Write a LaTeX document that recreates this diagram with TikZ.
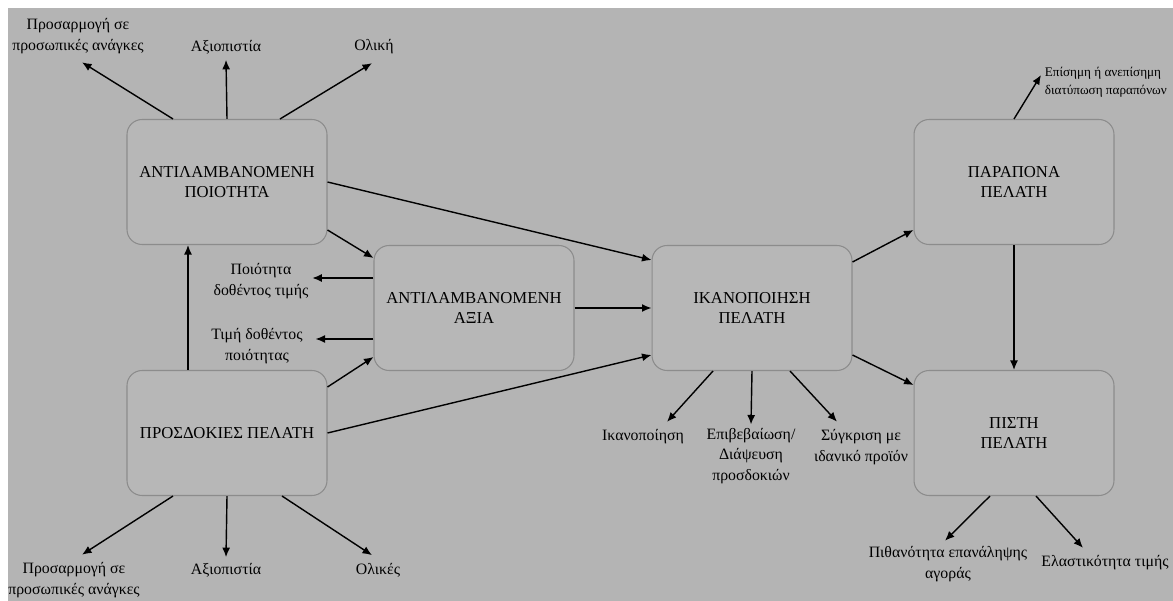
\documentclass[tikz,border=0pt]{standalone}
\usepackage{fontspec}
\setmainfont{Liberation Serif}
\usetikzlibrary{positioning,arrows.meta,calc}
\definecolor{paper}{RGB}{180,180,180}
\definecolor{boxfill}{RGB}{183,183,183}
\definecolor{boxline}{RGB}{140,140,140}

\begin{document}
\begin{tikzpicture}[x=0.02cm,y=-0.02cm,
  box/.style={draw=boxline,fill=boxfill,line width=0.6pt,rounded corners=0.3cm,minimum width=4cm,minimum height=2.5cm,align=center,font=\fontsize{9.5}{11.4}\selectfont},
  lbl/.style={align=center,inner sep=2pt,font=\fontsize{9}{11.6}\selectfont},
  arr/.style={-{Latex[length=1.9mm,width=1.6mm]},line width=0.8pt}
]
\useasboundingbox (0,0) rectangle (1173,601);
\fill[white] (0,0) rectangle (1173,601);
\fill[paper] (8,8) rectangle (1173,601);

\node[box] (quality) at (227,182) {ΑΝΤΙΛΑΜΒΑΝΟΜΕΝΗ\\ΠΟΙΟΤΗΤΑ};
\node[box] (expect) at (227,433) {ΠΡΟΣΔΟΚΙΕΣ ΠΕΛΑΤΗ};
\node[box] (value) at (474,308) {ΑΝΤΙΛΑΜΒΑΝΟΜΕΝΗ\\ΑΞΙΑ};
\node[box] (satisf) at (752,308) {ΙΚΑΝΟΠΟΙΗΣΗ\\ΠΕΛΑΤΗ};
\node[box] (complain) at (1014,182) {ΠΑΡΑΠΟΝΑ\\ΠΕΛΑΤΗ};
\node[box] (loyalty) at (1014,433) {ΠΙΣΤΗ\\ΠΕΛΑΤΗ};

\node[lbl] (qadapt) at (78,36) {Προσαρμογή σε\\προσωπικές ανάγκες};
\node[lbl] (qrel) at (226,47) {Αξιοπιστία};
\node[lbl] (qoverall) at (374,47) {Ολική};
\node[lbl] (vquality) at (261,281) {Ποιότητα\\δοθέντος τιμής};
\node[lbl] (vprice) at (257,346) {Τιμή δοθέντος\\ποιότητας};
\node[lbl] (eadapt) at (74,580) {Προσαρμογή σε\\προσωπικές ανάγκες};
\node[lbl] (erel) at (226,570) {Αξιοπιστία};
\node[lbl] (eoverall) at (378,570) {Ολικές};
\node[lbl] (ssat) at (643,437) {Ικανοποίηση};
\node[lbl] (sconf) at (751,456) {Επιβεβαίωση/\\Διάψευση\\προσδοκιών};
\node[lbl] (sideal) at (861,447) {Σύγκριση με\\ιδανικό προϊόν};
\node[lbl,anchor=west,align=left,font=\fontsize{7.5}{10.4}\selectfont] (cvoice) at (1041,82) {Επίσημη ή ανεπίσημη\\διατύπωση παραπόνων};
\node[lbl] (lrepeat) at (948,564) {Πιθανότητα επανάληψης\\αγοράς};
\node[lbl] (lelastic) at (1105,563) {Ελαστικότητα τιμής};

\draw[arr] ($(quality.north)+(-54,0)$) -- ($(qadapt.south)+(4,5)$);
\draw[arr] (quality.north) -- ($(qrel.south)+(0,2)$);
\draw[arr] ($(quality.north)+(53,0)$) -- ($(qoverall.south)+(-2,5)$);
\draw[arr] (quality.east) -- ($(satisf.west)+(0,-48)$);
\draw[arr] ($(quality.east)+(0,48)$) -- ($(value.west)+(0,-50)$);
\draw[arr] ($(value.west)+(0,-30)$) -- ($(vquality.east)+(0,-3)$);
\draw[arr] ($(value.west)+(0,31)$) -- ($(vprice.east)+(9,-7)$);
\draw[arr] (value.east) -- (satisf.west);
\draw[arr] ($(expect.north)+(-39,0)$) -- ($(quality.south)+(-39,0)$);
\draw[arr] ($(expect.east)+(0,-46)$) -- ($(value.west)+(0,49)$);
\draw[arr] (expect.east) -- ($(satisf.west)+(0,47)$);
\draw[arr] ($(expect.south)+(-54,0)$) -- ($(eadapt.north)+(8,-4)$);
\draw[arr] (expect.south) -- ($(erel.north)+(0,-2)$);
\draw[arr] ($(expect.south)+(55,0)$) -- ($(eoverall.north)+(-6,-4)$);
\draw[arr] ($(satisf.east)+(0,-46)$) -- ($(complain.west)+(0,48)$);
\draw[arr] ($(satisf.east)+(0,47)$) -- ($(loyalty.west)+(0,-48)$);
\draw[arr] ($(satisf.south)+(-39,0)$) -- ($(ssat.north)+(24,-4)$);
\draw[arr] (satisf.south) -- (sconf.north);
\draw[arr] ($(satisf.south)+(38,0)$) -- ($(sideal.north)+(-24,-4)$);
\draw[arr] (complain.north) -- ($(cvoice.west)+(0,-7)$);
\draw[arr] (complain.south) -- (loyalty.north);
\draw[arr] ($(loyalty.south)+(-24,0)$) -- ($(lrepeat.north)+(-3,-2)$);
\draw[arr] ($(loyalty.south)+(22,0)$) -- ($(lelastic.north)+(-22,-4)$);
\end{tikzpicture}
\end{document}
